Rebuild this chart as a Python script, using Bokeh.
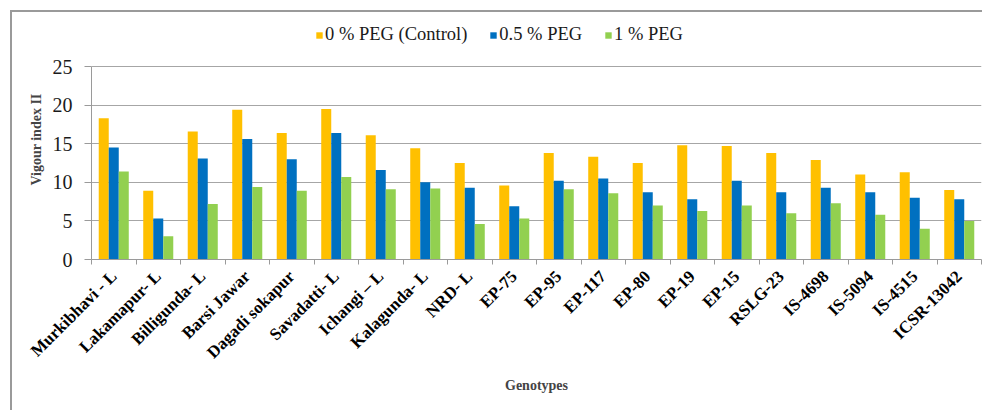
import numpy as np
from bokeh.plotting import figure
from bokeh.models import ColumnDataSource, Range1d, FixedTicker, Legend, LegendItem
from bokeh.embed import file_html
from bokeh.resources import INLINE

genotypes = ["Murkibhavi - L", "Lakamapur- L", "Billigunda- L", "Barsi Jawar", "Dagadi sokapur",
             "Savadatti- L", "Ichangi \u2013 L", "Kalagunda- L", "NRD- L", "EP-75", "EP-95", "EP-117",
             "EP-80", "EP-19", "EP-15", "RSLG-23", "IS-4698", "IS-5094", "IS-4515", "ICSR-13042"]
peg0 = [18.3, 8.9, 16.6, 19.4, 16.4, 19.5, 16.1, 14.4, 12.5, 9.6, 13.8, 13.3, 12.5, 14.8, 14.7, 13.8, 12.9, 11.0, 11.3, 9.0]
peg05 = [14.5, 5.3, 13.1, 15.6, 13.0, 16.4, 11.6, 10.0, 9.3, 6.9, 10.2, 10.5, 8.7, 7.8, 10.2, 8.7, 9.3, 8.7, 8.0, 7.8]
peg1 = [11.4, 3.0, 7.2, 9.4, 8.9, 10.7, 9.1, 9.2, 4.6, 5.3, 9.1, 8.6, 7.0, 6.3, 7.0, 6.0, 7.3, 5.8, 4.0, 5.0]
series_names = ["0 % PEG (Control)", "0.5 % PEG", "1 % PEG"]
colors = ["#FFC000", "#0070C0", "#92D050"]
y_ticks = [0, 5, 10, 15, 20, 25]

n = len(genotypes)
centers = np.arange(n) + 0.5
bw = 0.225

p = figure(width=972, height=400, output_backend="svg", toolbar_location=None,
           x_range=Range1d(0, n), y_range=Range1d(0, 31.1),
           min_border_left=79, min_border_right=3, min_border_top=7, min_border_bottom=153)
p.margin = (10, 0, 0, 10)
p.styles = {"border-top": "2px solid #9a9a9a", "border-left": "2px solid #9a9a9a"}
p.outline_line_color = None
p.background_fill_color = "white"
p.border_fill_color = "white"

renderers = []
for k, (vals, col) in enumerate(zip([peg0, peg05, peg1], colors)):
    src = ColumnDataSource(dict(x=centers + (k - 1) * bw, top=vals))
    r = p.vbar(x="x", top="top", width=bw, bottom=0, source=src, fill_color=col, line_color=None)
    renderers.append(r)

legend = Legend(items=[LegendItem(label=s, renderers=[r]) for s, r in zip(series_names, renderers)],
                orientation="horizontal", location=(224, 214))
legend.label_text_font = "Liberation Serif"
legend.label_text_font_size = "18.5px"
legend.label_text_color = "#1a1a1a"
legend.glyph_width = 8
legend.glyph_height = 8
legend.label_standoff = 2
legend.spacing = 22
legend.border_line_color = None
legend.background_fill_alpha = 0
legend.margin = 0
legend.padding = 4
p.add_layout(legend)

# x axis
p.xaxis.ticker = FixedTicker(ticks=list(centers), minor_ticks=list(np.arange(n + 1)))
p.xaxis.major_label_overrides = {float(c): g for c, g in zip(centers, genotypes)}
p.xaxis.major_label_orientation = np.pi / 4
p.xaxis.major_label_text_font = "Liberation Serif"
p.xaxis.major_label_text_font_style = "bold"
p.xaxis.major_label_text_font_size = "17px"
p.xaxis.major_label_text_color = "black"
p.xaxis.major_tick_line_color = None
p.xaxis.minor_tick_line_color = "#9a9a9a"
p.xaxis.minor_tick_out = 5
p.xaxis.minor_tick_in = 0
p.xaxis.axis_line_color = "#9a9a9a"
p.xaxis.major_label_standoff = 8
p.xaxis.axis_label = "Genotypes"
p.xaxis.axis_label_text_font = "Liberation Serif"
p.xaxis.axis_label_text_font_style = "bold"
p.xaxis.axis_label_text_font_size = "14px"
p.xaxis.axis_label_standoff = 6
p.xgrid.grid_line_color = None

# y axis
p.yaxis.ticker = FixedTicker(ticks=y_ticks)
p.yaxis.bounds = (0, 25)
p.yaxis.minor_tick_line_color = None
p.yaxis.major_tick_line_color = "#9a9a9a"
p.yaxis.major_tick_out = 7
p.yaxis.major_tick_in = 0
p.yaxis.axis_line_color = "#9a9a9a"
p.yaxis.major_label_text_font = "Liberation Serif"
p.yaxis.major_label_text_font_size = "20px"
p.yaxis.major_label_text_color = "#1a1a1a"
p.yaxis.major_label_standoff = 12
p.yaxis.axis_label = "Vigour index II"
p.yaxis.axis_label_text_font = "Liberation Serif"
p.yaxis.axis_label_text_font_style = "bold"
p.yaxis.axis_label_text_font_size = "14px"
p.yaxis.axis_label_standoff = 6
p.ygrid.grid_line_color = "#a6a6a6"
p.ygrid.grid_line_width = 1

open("out.html", "w").write(file_html(p, INLINE))
